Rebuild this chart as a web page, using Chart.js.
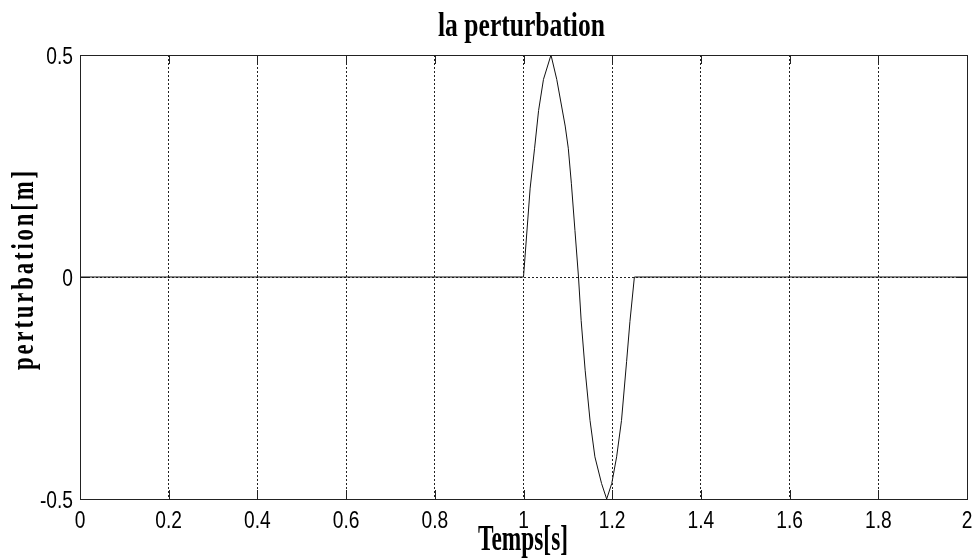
<!DOCTYPE html>
<html>
<head>
<meta charset="utf-8">
<script src="https://cdn.jsdelivr.net/npm/chart.js@4/dist/chart.umd.min.js"></script>
<style>
  html, body { margin: 0; padding: 0; background: #ffffff; }
  #wrap { width: 976px; height: 559px; }
</style>
</head>
<body>
<div id="wrap"><canvas id="c" width="976" height="559"></canvas></div>
<script>
// Disturbance signal: zero, then one oscillation between 1 s and 1.25 s
const timeS = [0, 1, 1.015, 1.025, 1.034, 1.045, 1.062, 1.075, 1.094, 1.101, 1.108, 1.116,
  1.124, 1.13, 1.139, 1.15, 1.161, 1.176, 1.1875, 1.199, 1.21, 1.221, 1.2325, 1.24, 1.25, 2];
const perturbationM = [0, 0, 0.2, 0.29, 0.375, 0.445, 0.5, 0.445, 0.34, 0.29, 0.21, 0.105,
  0, -0.098, -0.21, -0.323, -0.405, -0.465, -0.5, -0.465, -0.405, -0.323, -0.19, -0.1, 0, 0];
const xTickValues = [0, 0.2, 0.4, 0.6, 0.8, 1, 1.2, 1.4, 1.6, 1.8, 2];
const yTickValues = [-0.5, 0, 0.5];

const titleText = 'la perturbation';
const xTitleText = 'Temps[s]';
const yTitleText = 'perturbation[m]';

const sansFont = "24px 'Liberation Sans', Arial, sans-serif";
const serifBold = size => `bold ${size}px 'Liberation Serif', 'Times New Roman', serif`;
const fmt = v => String(Number(v.toFixed(1)));

const points = timeS.map((t, i) => ({ x: t, y: perturbationM[i] }));

// Draws text squeezed horizontally by factor k, anchored per align
function narrowText(ctx, text, x, y, k, align) {
  const w = ctx.measureText(text).width * k;
  let left = x;
  if (align === 'center') left = x - w / 2;
  else if (align === 'right') left = x - w;
  ctx.save();
  ctx.translate(left, y);
  ctx.scale(k, 1);
  ctx.textAlign = 'left';
  ctx.fillText(text, 0, 0);
  ctx.restore();
}

// Same, but the squeeze is chosen so the text spans the given width
function fittedText(ctx, text, x, y, width, align) {
  const k = width / ctx.measureText(text).width;
  narrowText(ctx, text, x, y, k, align);
}

// Box, inward tick marks, tick labels and titles
const frame = {
  id: 'frame',
  beforeDatasetsDraw(chart) {
    const { ctx, chartArea: a, scales: { x, y } } = chart;
    ctx.save();
    ctx.strokeStyle = '#222';
    ctx.lineWidth = 1;
    ctx.beginPath();
    const tl = 9;
    x.ticks.forEach(t => {
      const px = Math.round(x.getPixelForValue(t.value)) + 0.5;
      ctx.moveTo(px, a.bottom); ctx.lineTo(px, a.bottom - tl);
      ctx.moveTo(px, a.top); ctx.lineTo(px, a.top + tl);
    });
    y.ticks.forEach(t => {
      const py = Math.round(y.getPixelForValue(t.value)) + 0.5;
      ctx.moveTo(a.left, py); ctx.lineTo(a.left + tl, py);
      ctx.moveTo(a.right, py); ctx.lineTo(a.right - tl, py);
    });
    ctx.stroke();
    ctx.restore();
  },
  afterDraw(chart) {
    const { ctx, chartArea: a, scales: { x, y } } = chart;
    ctx.save();
    ctx.strokeStyle = '#222';
    ctx.lineWidth = 1;
    ctx.strokeRect(Math.round(a.left) + 0.5, Math.round(a.top) + 0.5,
      Math.round(a.right - a.left), Math.round(a.bottom - a.top));

    ctx.fillStyle = '#000';
    ctx.textBaseline = 'alphabetic';

    // tick labels
    ctx.font = sansFont;
    x.ticks.forEach(t => {
      narrowText(ctx, fmt(t.value), x.getPixelForValue(t.value), a.bottom + 29, 0.8, 'center');
    });
    y.ticks.forEach(t => {
      narrowText(ctx, fmt(t.value), a.left - 7, y.getPixelForValue(t.value) + 8.5, 0.8, 'right');
    });

    // titles
    ctx.font = serifBold(34);
    fittedText(ctx, titleText, 521.5, 36, 167, 'center');

    ctx.font = serifBold(35);
    fittedText(ctx, xTitleText, 523, 550, 90, 'center');

    ctx.save();
    ctx.translate(33, 269);
    ctx.rotate(-Math.PI / 2);
    ctx.font = serifBold(32);
    ctx.letterSpacing = '4px';
    fittedText(ctx, yTitleText, 0, 0, 202, 'center');
    ctx.restore();

    ctx.restore();
  }
};

const gridColor = edges => c => (edges.includes(c.tick.value) ? 'rgba(0,0,0,0)' : '#222');

new Chart(document.getElementById('c'), {
  type: 'line',
  data: {
    datasets: [{
      data: points,
      borderColor: '#111',
      borderWidth: 1,
      pointRadius: 0,
      tension: 0,
      fill: false
    }]
  },
  options: {
    responsive: false,
    animation: false,
    events: [],
    layout: { padding: { left: 0, right: 9, top: 55, bottom: 0 } },
    plugins: { legend: { display: false }, tooltip: { enabled: false }, title: { display: false } },
    scales: {
      x: {
        type: 'linear',
        min: 0, max: 2,
        afterFit: s => { s.height = 60; s.paddingLeft = 0; s.paddingRight = 0; },
        afterBuildTicks: s => { s.ticks = xTickValues.map(v => ({ value: v })); },
        ticks: { display: false },
        grid: { drawTicks: false, lineWidth: 1, color: gridColor([0, 2]) },
        border: { display: false, dash: [2, 2] }
      },
      y: {
        type: 'linear',
        min: -0.5, max: 0.5,
        afterFit: s => { s.width = 80; s.paddingTop = 0; s.paddingBottom = 0; },
        afterBuildTicks: s => { s.ticks = yTickValues.map(v => ({ value: v })); },
        ticks: { display: false },
        grid: { drawTicks: false, lineWidth: 1, color: gridColor([-0.5, 0.5]) },
        border: { display: false, dash: [2, 2] }
      }
    }
  },
  plugins: [frame]
});
</script>
</body>
</html>
